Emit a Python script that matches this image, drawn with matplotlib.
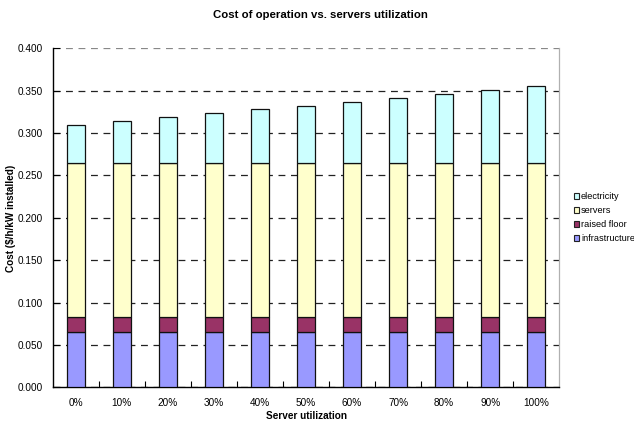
import matplotlib
matplotlib.use("Agg")
import matplotlib.pyplot as plt
from matplotlib.patches import Patch
from matplotlib.ticker import FixedLocator, FormatStrFormatter

plt.rcParams['font.family'] = ['Liberation Sans', 'DejaVu Sans']

# Data ($/h/kW installed)
utilization = ["0%", "10%", "20%", "30%", "40%", "50%", "60%", "70%", "80%", "90%", "100%"]
infrastructure = [0.065, 0.065, 0.065, 0.065, 0.065, 0.065, 0.065, 0.065, 0.065, 0.065, 0.065]
raised_floor = [0.018, 0.018, 0.018, 0.018, 0.018, 0.018, 0.018, 0.018, 0.018, 0.018, 0.018]
servers = [0.182, 0.182, 0.182, 0.182, 0.182, 0.182, 0.182, 0.182, 0.182, 0.182, 0.182]
electricity = [0.045, 0.0495, 0.054, 0.0585, 0.063, 0.0675, 0.072, 0.0765, 0.081, 0.0855, 0.090]

series = [
    ("infrastructure", infrastructure, "#9999FF"),
    ("raised floor", raised_floor, "#993366"),
    ("servers", servers, "#FFFFCC"),
    ("electricity", electricity, "#CCFFFF"),
]

fig = plt.figure(figsize=(6.34, 4.21), dpi=100)
ax = fig.add_axes([0.0831, 0.0796, 0.7991, 0.8057])

x = list(range(len(utilization)))
bottom = [0.0] * len(x)
for name, vals, color in series:
    ax.bar(x, vals, width=0.40, bottom=bottom, color=color,
           edgecolor="#111111", linewidth=0.9, label=name, zorder=3)
    bottom = [b + v for b, v in zip(bottom, vals)]

ax.set_xlim(-0.5, len(x) - 0.5)
ax.set_ylim(0, 0.4)

# y axis
ax.yaxis.set_major_locator(FixedLocator([i * 0.05 for i in range(9)]))
ax.yaxis.set_major_formatter(FormatStrFormatter('%.3f'))
ax.tick_params(axis='y', direction='in', length=5, width=0.8, pad=7,
               labelsize=7.2, colors='black')
ax.yaxis.grid(True, linestyle=(0, (5.5, 4.5)), color='#222222', linewidth=0.9)
ax.set_axisbelow(True)
# the topmost dashed line is lighter
ax.get_ygridlines()[-1].set_color('#888888')

# x axis: labels at bar centres, small marks between categories
ax.set_xticks(x)
ax.set_xticklabels(utilization)
ax.tick_params(axis='x', which='major', length=0, pad=7.5, labelsize=7.2)
ax.set_xticks([i + 0.5 for i in x[:-1]], minor=True)
ax.tick_params(axis='x', which='minor', direction='in', length=4, width=0.8)

for side in ("left", "bottom"):
    ax.spines[side].set_linewidth(1.0)
    ax.spines[side].set_color('black')
ax.spines["top"].set_visible(False)
ax.spines["right"].set_color('#b0b0b0')
ax.spines["right"].set_linewidth(0.9)

ax.set_xlabel("Server utilization", fontsize=7.2, fontweight='bold', labelpad=2.5)
ax.set_ylabel("Cost ($/h/kW installed)", fontsize=7.2, fontweight='bold', labelpad=1.5)

fig.text(0.505, 0.965, "Cost of operation vs. servers utilization",
         ha='center', va='center', fontsize=8.2, fontweight='bold')

handles = [Patch(facecolor=c, edgecolor='#222222', linewidth=0.8, label=n)
           for n, _, c in reversed(series)]
fig.legend(handles=handles, loc='center left', bbox_to_anchor=(0.899, 0.483),
           frameon=False, fontsize=6.6, handlelength=0.6, handleheight=0.6,
           handletextpad=0.2, labelspacing=0.55, borderaxespad=0)

fig.savefig("out.png", dpi=100)
